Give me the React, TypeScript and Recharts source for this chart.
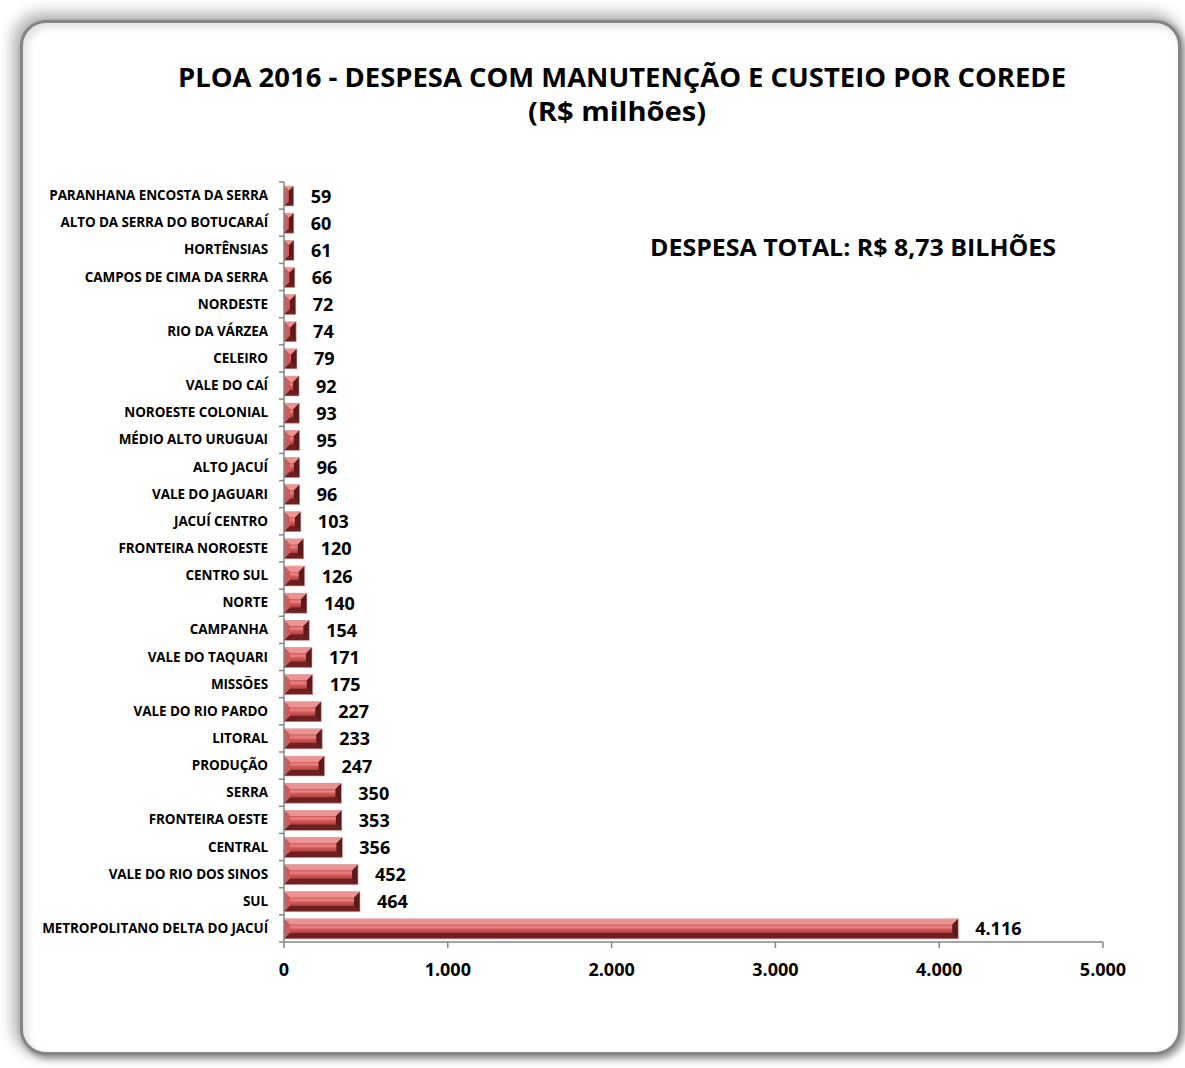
import React from "react";
import { BarChart, Bar, XAxis, YAxis, LabelList } from "recharts";

const categories: string[] = [
  "PARANHANA ENCOSTA DA SERRA",
  "ALTO DA SERRA DO BOTUCARAÍ",
  "HORTÊNSIAS",
  "CAMPOS DE CIMA DA SERRA",
  "NORDESTE",
  "RIO DA VÁRZEA",
  "CELEIRO",
  "VALE DO CAÍ",
  "NOROESTE COLONIAL",
  "MÉDIO ALTO URUGUAI",
  "ALTO JACUÍ",
  "VALE DO JAGUARI",
  "JACUÍ CENTRO",
  "FRONTEIRA NOROESTE",
  "CENTRO SUL",
  "NORTE",
  "CAMPANHA",
  "VALE DO TAQUARI",
  "MISSÕES",
  "VALE DO RIO PARDO",
  "LITORAL",
  "PRODUÇÃO",
  "SERRA",
  "FRONTEIRA OESTE",
  "CENTRAL",
  "VALE DO RIO DOS SINOS",
  "SUL",
  "METROPOLITANO DELTA DO JACUÍ",
];

const values: number[] = [
  59, 60, 61, 66, 72, 74, 79, 92, 93, 95, 96, 96, 103, 120, 126, 140, 154, 171,
  175, 227, 233, 247, 350, 353, 356, 452, 464, 4116,
];

const xTicks: number[] = [0, 1000, 2000, 3000, 4000, 5000];

const titleLine1 = "PLOA 2016 - DESPESA COM MANUTENÇÃO E CUSTEIO POR COREDE";
const titleLine2 = "(R$ milhões)";
const totalNote = "DESPESA TOTAL: R$ 8,73 BILHÕES";

const data = categories.map((name, i) => ({ name, value: values[i] }));

const W = 1185;
const H = 1068;
const PLOT_LEFT = 284;
const PLOT_RIGHT = 1103;
const PLOT_TOP = 182;
const PLOT_BOTTOM = 942;
const X_AXIS_H = 40;
const TICK_MARGIN = 16;
const FONT = "'Open Sans', Lato, sans-serif";
const AXIS_COLOR = "#868686";

const fmt = (v: number) =>
  String(Math.round(v)).replace(/\B(?=(\d{3})+(?!\d))/g, ".");

const YTick = (props: any) => {
  const { x, y, payload, index } = props;
  const band =
    payload && payload.offset ? payload.offset * 2 : (PLOT_BOTTOM - PLOT_TOP) / categories.length;
  const ax = x + TICK_MARGIN;
  return (
    <g>
      <line x1={ax - 5} x2={ax} y1={y - band / 2} y2={y - band / 2} stroke={AXIS_COLOR} strokeWidth={1.5} />
      {index === categories.length - 1 && (
        <line x1={ax - 5} x2={ax} y1={y + band / 2} y2={y + band / 2} stroke={AXIS_COLOR} strokeWidth={1.5} />
      )}
      <text
        x={x}
        y={y}
        dy={4.5}
        textAnchor="end"
        fontFamily={FONT}
        fontWeight={700}
        fontSize={13.5}
        letterSpacing={-0.1}
        fill="#000"
      >
        {payload.value}
      </text>
    </g>
  );
};

const XTick = (props: any) => {
  const { x, y, payload } = props;
  return (
    <text
      x={x}
      y={y}
      dy={18}
      textAnchor="middle"
      fontFamily={FONT}
      fontWeight={700}
      fontSize={18}
      fill="#000"
    >
      {fmt(payload.value)}
    </text>
  );
};

const BevelBar = (props: any) => {
  const { x, y, width, height } = props;
  if (!width || width <= 0) return null;
  const w = width;
  const h = height;
  const b = Math.min(6, w / 2, h / 2);
  return (
    <g>
      <rect x={x} y={y} width={w} height={h} fill="#a83a3a" />
      <polygon
        points={`${x},${y} ${x + w},${y} ${x + w - b},${y + b} ${x + b},${y + b}`}
        fill="#eb9393"
      />
      <polygon
        points={`${x},${y + h} ${x + w},${y + h} ${x + w - b},${y + h - b} ${x + b},${y + h - b}`}
        fill="#6e2020"
      />
      <polygon
        points={`${x},${y} ${x + b},${y + b} ${x + b},${y + h - b} ${x},${y + h}`}
        fill="#cf5a5a"
      />
      <polygon
        points={`${x + w},${y} ${x + w - b},${y + b} ${x + w - b},${y + h - b} ${x + w},${y + h}`}
        fill="#5e1a1a"
      />
      {w - 2 * b > 0 && (
        <rect x={x + b} y={y + b} width={w - 2 * b} height={Math.max(0, h - 2 * b)} fill="url(#barFace)" />
      )}
      <rect x={x} y={y} width={w} height={h} fill="none" stroke="#d8b0b0" strokeWidth={0.6} />
    </g>
  );
};

const ValueLabel = (props: any) => {
  const { x, y, width, height, value } = props;
  return (
    <text
      x={x + width + 17}
      y={y + height / 2}
      dy={6.5}
      textAnchor="start"
      fontFamily={FONT}
      fontWeight={700}
      fontSize={18}
      fill="#000"
    >
      {fmt(value)}
    </text>
  );
};

export default function App() {
  return (
    <div
      style={{
        position: "absolute",
        left: 0,
        top: 0,
        width: W,
        height: H,
        background: "#ffffff",
        overflow: "hidden",
      }}
    >
      <div
        style={{
          position: "absolute",
          left: 20,
          top: 20,
          width: 1161,
          height: 1035,
          border: "3px solid #858585",
          borderRadius: 26,
          boxShadow:
            "-4px -4px 14px 4px rgba(0,0,0,0.28), 3px 3px 6px 1px rgba(0,0,0,0.35), inset 4px 4px 8px rgba(0,0,0,0.12)",
          boxSizing: "border-box",
          background: "#fff",
        }}
      />
      <div style={{ position: "absolute", left: 0, top: 0 }}>
        <BarChart
          width={W}
          height={H}
          data={data}
          layout="vertical"
          margin={{ top: PLOT_TOP, right: W - PLOT_RIGHT, bottom: H - PLOT_BOTTOM - X_AXIS_H, left: 0 }}
          barSize={20}
        >
          <defs>
            <linearGradient id="barFace" x1="0" y1="0" x2="0" y2="1">
              <stop offset="0%" stopColor="#d65f5f" />
              <stop offset="30%" stopColor="#ea8585" />
              <stop offset="55%" stopColor="#d45b5b" />
              <stop offset="100%" stopColor="#b04242" />
            </linearGradient>
          </defs>
          <XAxis
            type="number"
            domain={[0, 5000]}
            ticks={xTicks}
            interval={0}
            height={X_AXIS_H}
            axisLine={{ stroke: AXIS_COLOR, strokeWidth: 1.5 }}
            tickLine={{ stroke: AXIS_COLOR, strokeWidth: 1.5 }}
            tickSize={6}
            tickMargin={10}
            tick={<XTick />}
          />
          <YAxis
            type="category"
            dataKey="name"
            width={PLOT_LEFT}
            interval={0}
            axisLine={{ stroke: AXIS_COLOR, strokeWidth: 1.5 }}
            tickLine={false}
            tickSize={0}
            tickMargin={TICK_MARGIN}
            tick={<YTick />}
          />
          <Bar dataKey="value" isAnimationActive={false} shape={<BevelBar />}>
            <LabelList dataKey="value" content={<ValueLabel />} />
          </Bar>
        </BarChart>
      </div>
      <svg
        width={W}
        height={H}
        style={{ position: "absolute", left: 0, top: 0, pointerEvents: "none" }}
      >
        <text
          x={178}
          y={87}
          textLength={888}
          lengthAdjust="spacingAndGlyphs"
          fontFamily={FONT}
          fontWeight={700}
          fontSize={27}
          fill="#000"
        >
          {titleLine1}
        </text>
        <text
          x={528}
          y={121}
          textLength={178}
          lengthAdjust="spacingAndGlyphs"
          fontFamily={FONT}
          fontWeight={700}
          fontSize={27}
          fill="#000"
        >
          {titleLine2}
        </text>
        <text
          x={650}
          y={256}
          textLength={406}
          lengthAdjust="spacingAndGlyphs"
          fontFamily={FONT}
          fontWeight={700}
          fontSize={24}
          fill="#000"
        >
          {totalNote}
        </text>
      </svg>
    </div>
  );
}
